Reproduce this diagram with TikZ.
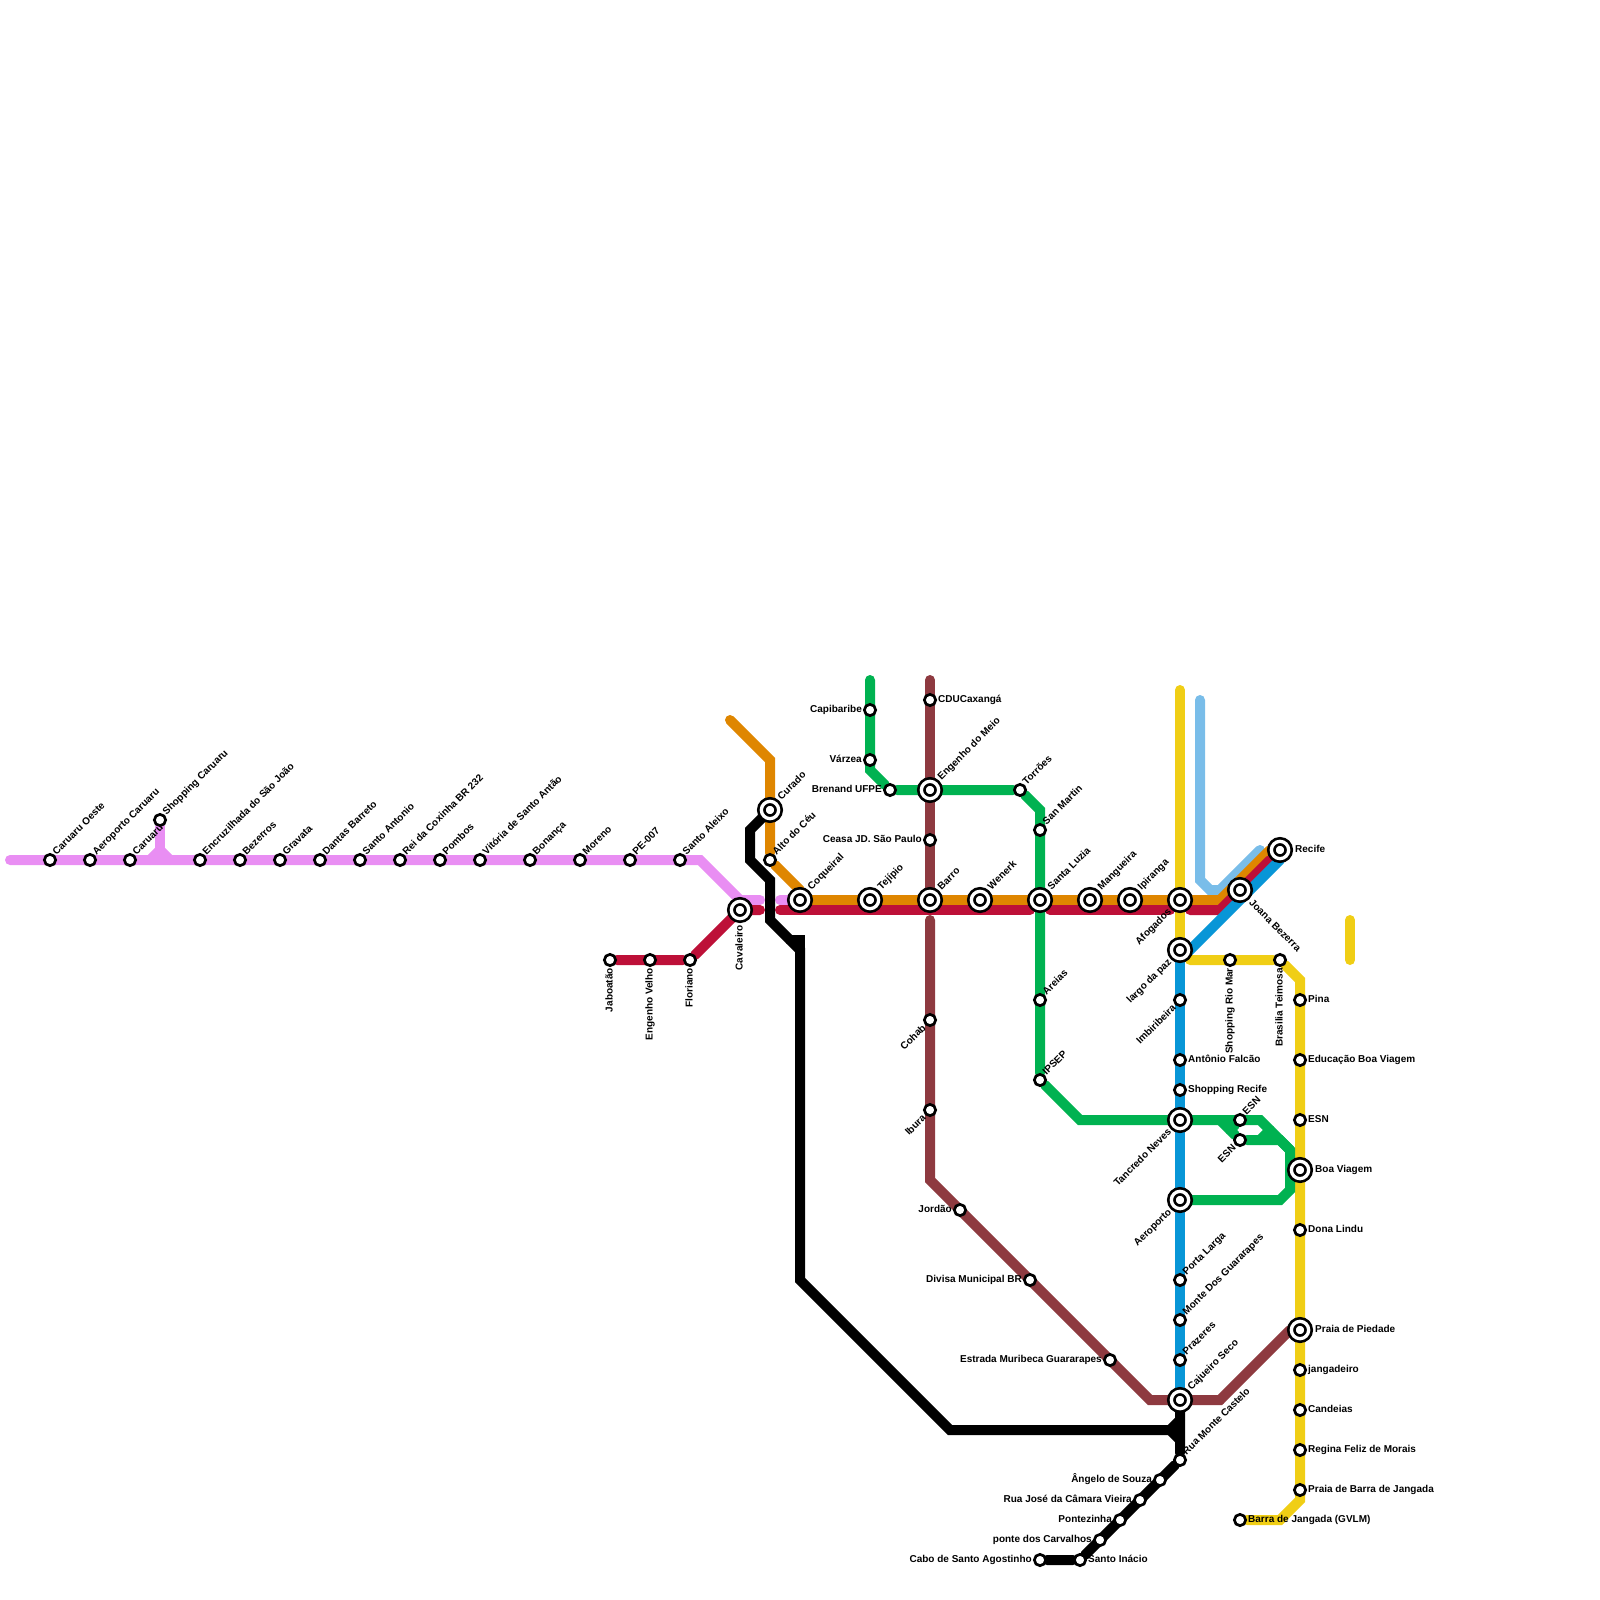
\documentclass[tikz,border=0pt]{standalone}
\usepackage{fontspec}
\setmainfont{Liberation Sans}
\usetikzlibrary{backgrounds}
\definecolor{pinkline}{HTML}{E98EF3}
\definecolor{redline}{HTML}{BD1038}
\definecolor{orangeline}{HTML}{DF8600}
\definecolor{greenline}{HTML}{00B251}
\definecolor{brownline}{HTML}{8E3A40}
\definecolor{yellowline}{HTML}{F0CE15}
\definecolor{skyline}{HTML}{79BDE9}
\definecolor{blueline}{HTML}{0896D7}
\tikzset{
  stn/.style={circle, draw=black, fill=white, line width=2.7, inner sep=0, minimum size=11.3},
  bigstn/.style={circle, draw=black, fill=white, line width=2.7, double=white, double distance=3.3, inner sep=0, minimum size=17.3},
  rail/.style={line width=10, line cap=round},
  txt/.style={font=\bfseries\fontsize{10}{12}\selectfont, inner sep=0, text height=7.2, text depth=0},
  txtne/.style={txt, xshift=4, yshift=7, rotate=45, anchor=west},
  txtbigne/.style={txt, xshift=9, yshift=12, rotate=45, anchor=west},
  txte/.style={txt, anchor=west, xshift=8, yshift=1},
  txtbige/.style={txt, anchor=west, xshift=15, yshift=1},
  txtw/.style={txt, anchor=east, xshift=-8, yshift=1},
  txtsw/.style={txt, xshift=-6, yshift=-6, rotate=45, anchor=east},
  txtbigsw/.style={txt, xshift=-10.5, yshift=-10, rotate=45, anchor=east},
  txts/.style={txt, xshift=-1, yshift=-8, rotate=90, anchor=east},
  txtbigs/.style={txt, xshift=-1, yshift=-15, rotate=90, anchor=east},
  txtbigse/.style={txt, xshift=11, yshift=-11, rotate=-45, anchor=west},
}
\begin{document}
\begin{tikzpicture}[x=1pt, y=-1pt]
\useasboundingbox (0,0) rectangle (1600,1600);
% pink line
\node[stn] (caruaruoeste) at (50,860){};
\node[txtne] (tcaruaruoeste) at (caruaruoeste){Caruaru Oeste};
\node[stn] (aerocaruaru) at (90,860){};
\node[txtne] (taerocaruaru) at (aerocaruaru){Aeroporto Caruaru};
\node[stn] (caruaru) at (130,860){};
\node[txtne] (tcaruaru) at (caruaru){Caruaru};
\node[stn] (shopcaruaru) at (160,820){};
\node[txtne] (tshopcaruaru) at (shopcaruaru){Shopping Caruaru};
\node[stn] (encruzilhada) at (200,860){};
\node[txtne] (tencruzilhada) at (encruzilhada){Encruzilhada do São João};
\node[stn] (bezerros) at (240,860){};
\node[txtne] (tbezerros) at (bezerros){Bezerros};
\node[stn] (gravata) at (280,860){};
\node[txtne] (tgravata) at (gravata){Gravata};
\node[stn] (dantas) at (320,860){};
\node[txtne] (tdantas) at (dantas){Dantas Barreto};
\node[stn] (santoantonio) at (360,860){};
\node[txtne] (tsantoantonio) at (santoantonio){Santo Antonio};
\node[stn] (coxinha) at (400,860){};
\node[txtne] (tcoxinha) at (coxinha){Rei da Coxinha BR 232};
\node[stn] (pombos) at (440,860){};
\node[txtne] (tpombos) at (pombos){Pombos};
\node[stn] (vitoria) at (480,860){};
\node[txtne] (tvitoria) at (vitoria){Vitória de Santo Antão};
\node[stn] (bonanca) at (530,860){};
\node[txtne] (tbonanca) at (bonanca){Bonança};
\node[stn] (moreno) at (580,860){};
\node[txtne] (tmoreno) at (moreno){Moreno};
\node[stn] (pe007) at (630,860){};
\node[txtne] (tpe007) at (pe007){PE-007};
\node[stn] (santoaleixo) at (680,860){};
\node[txtne] (tsantoaleixo) at (santoaleixo){Santo Aleixo};
% red line
\node[stn] (jaboatao) at (610,960){};
\node[txts] (tjaboatao) at (jaboatao){Jaboatão};
\node[stn] (engenhovelho) at (650,960){};
\node[txts] (tengenhovelho) at (engenhovelho){Engenho Velho};
\node[stn] (floriano) at (690,960){};
\node[txts] (tfloriano) at (floriano){Floriano};
\node[bigstn] (cavaleiro) at (740,910){};
\node[txtbigs] (tcavaleiro) at (cavaleiro){Cavaleiro};
% orange line
\node[bigstn] (curado) at (770,810){};
\node[txtbigne] (tcurado) at (curado){Curado};
\node[stn] (altoceu) at (770,860){};
\node[txtne] (taltoceu) at (altoceu){Alto do Céu};
\node[bigstn] (coqueiral) at (800,900){};
\node[txtbigne] (tcoqueiral) at (coqueiral){Coqueiral};
\node[bigstn] (tejipio) at (870,900){};
\node[txtbigne] (ttejipio) at (tejipio){Tejípio};
\node[bigstn] (barro) at (930,900){};
\node[txtbigne] (tbarro) at (barro){Barro};
\node[bigstn] (wenerk) at (980,900){};
\node[txtbigne] (twenerk) at (wenerk){Wenerk};
\node[bigstn] (santaluzia) at (1040,900){};
\node[txtbigne] (tsantaluzia) at (santaluzia){Santa Luzia};
\node[bigstn] (mangueira) at (1090,900){};
\node[txtbigne] (tmangueira) at (mangueira){Mangueira};
\node[bigstn] (ipiranga) at (1130,900){};
\node[txtbigne] (tipiranga) at (ipiranga){Ipiranga};
\node[bigstn] (afogados) at (1180,900){};
\node[txtbigsw] (tafogados) at (afogados){Afogados};
\node[bigstn] (joana) at (1240,890){};
\node[txtbigse] (tjoana) at (joana){Joana Bezerra};
\node[bigstn] (recife) at (1280,850){};
\node[txtbige] (trecife) at (recife){Recife};
% green line
\node[stn] (capibaribe) at (870,710){};
\node[txtw] (tcapibaribe) at (capibaribe){Capibaribe};
\node[stn] (varzea) at (870,760){};
\node[txtw] (tvarzea) at (varzea){Várzea};
\node[stn] (brenand) at (890,790){};
\node[txtw] (tbrenand) at (brenand){Brenand UFPE};
\node[bigstn] (engenhomeio) at (930,790){};
\node[txtbigne] (tengenhomeio) at (engenhomeio){Engenho do Meio};
\node[stn] (torroes) at (1020,790){};
\node[txtne] (ttorroes) at (torroes){Torrões};
\node[stn] (sanmartin) at (1040,830){};
\node[txtne] (tsanmartin) at (sanmartin){San Martin};
\node[stn] (areias) at (1040,1000){};
\node[txtne] (tareias) at (areias){Areias};
\node[stn] (ipsep) at (1040,1080){};
\node[txtne] (tipsep) at (ipsep){IPSEP};
\node[stn] (esnA) at (1240,1120){};
\node[txtne] (tesnA) at (esnA){ESN};
\node[stn] (esnB) at (1240,1140){};
\node[txtsw] (tesnB) at (esnB){ESN};
% brown line
\node[stn] (cducaxanga) at (930,700){};
\node[txte] (tcducaxanga) at (cducaxanga){CDUCaxangá};
\node[stn] (ceasa) at (930,840){};
\node[txtw] (tceasa) at (ceasa){Ceasa JD. São Paulo};
\node[stn] (cohab) at (930,1020){};
\node[txtsw] (tcohab) at (cohab){Cohab};
\node[stn] (ibura) at (930,1110){};
\node[txtsw] (tibura) at (ibura){Ibura};
\node[stn] (jordao) at (960,1210){};
\node[txtw] (tjordao) at (jordao){Jordão};
\node[stn] (divisa) at (1030,1280){};
\node[txtw] (tdivisa) at (divisa){Divisa Municipal BR};
\node[stn] (muribeca) at (1110,1360){};
\node[txtw] (tmuribeca) at (muribeca){Estrada Muribeca Guararapes};
% blue line
\node[bigstn] (largopaz) at (1180,950){};
\node[txtbigsw] (tlargopaz) at (largopaz){largo da paz};
\node[stn] (imbiribeira) at (1180,1000){};
\node[txtsw] (timbiribeira) at (imbiribeira){Imbiribeira};
\node[stn] (falcao) at (1180,1060){};
\node[txte] (tfalcao) at (falcao){Antônio Falcão};
\node[stn] (shoprecife) at (1180,1090){};
\node[txte] (tshoprecife) at (shoprecife){Shopping Recife};
\node[bigstn] (tancredo) at (1180,1120){};
\node[txtbigsw] (ttancredo) at (tancredo){Tancredo Neves};
\node[bigstn] (aeroporto) at (1180,1200){};
\node[txtbigsw] (taeroporto) at (aeroporto){Aeroporto};
\node[stn] (portalarga) at (1180,1280){};
\node[txtne] (tportalarga) at (portalarga){Porta Larga};
\node[stn] (montegua) at (1180,1320){};
\node[txtne] (tmontegua) at (montegua){Monte Dos Guararapes};
\node[stn] (prazeres) at (1180,1360){};
\node[txtne] (tprazeres) at (prazeres){Prazeres};
\node[bigstn] (cajueiro) at (1180,1400){};
\node[txtbigne] (tcajueiro) at (cajueiro){Cajueiro Seco};
% black line
\node[stn] (ruamonte) at (1180,1460){};
\node[txtne] (truamonte) at (ruamonte){Rua Monte Castelo};
\node[stn] (angelo) at (1160,1480){};
\node[txtw] (tangelo) at (angelo){Ângelo de Souza};
\node[stn] (camara) at (1140,1500){};
\node[txtw] (tcamara) at (camara){Rua José da Câmara Vieira};
\node[stn] (pontezinha) at (1120,1520){};
\node[txtw] (tpontezinha) at (pontezinha){Pontezinha};
\node[stn] (carvalhos) at (1100,1540){};
\node[txtw] (tcarvalhos) at (carvalhos){ponte dos Carvalhos};
\node[stn] (santoinacio) at (1080,1560){};
\node[txte] (tsantoinacio) at (santoinacio){Santo Inácio};
\node[stn] (cabo) at (1040,1560){};
\node[txtw] (tcabo) at (cabo){Cabo de Santo Agostinho};
% yellow line
\node[stn] (riomar) at (1230,960){};
\node[txts] (triomar) at (riomar){Shopping Rio Mar};
\node[stn] (teimosa) at (1280,960){};
\node[txts] (tteimosa) at (teimosa){Brasilia Teimosa};
\node[stn] (pina) at (1300,1000){};
\node[txte] (tpina) at (pina){Pina};
\node[stn] (educacao) at (1300,1060){};
\node[txte] (teducacao) at (educacao){Educação Boa Viagem};
\node[stn] (esnC) at (1300,1120){};
\node[txte] (tesnC) at (esnC){ESN};
\node[bigstn] (boaviagem) at (1300,1170){};
\node[txtbige] (tboaviagem) at (boaviagem){Boa Viagem};
\node[stn] (donalindu) at (1300,1230){};
\node[txte] (tdonalindu) at (donalindu){Dona Lindu};
\node[bigstn] (piedade) at (1300,1330){};
\node[txtbige] (tpiedade) at (piedade){Praia de Piedade};
\node[stn] (jangadeiro) at (1300,1370){};
\node[txte] (tjangadeiro) at (jangadeiro){jangadeiro};
\node[stn] (candeias) at (1300,1410){};
\node[txte] (tcandeias) at (candeias){Candeias};
\node[stn] (regina) at (1300,1450){};
\node[txte] (tregina) at (regina){Regina Feliz de Morais};
\node[stn] (praiabarra) at (1300,1490){};
\node[txte] (tpraiabarra) at (praiabarra){Praia de Barra de Jangada};
\node[stn] (barragvlm) at (1240,1520){};
\node[txte] (tbarragvlm) at (barragvlm){Barra de Jangada (GVLM)};
% bends and free ends
\coordinate (pinkA) at (10,860);
\coordinate (pinkB) at (700,860);
\coordinate (pinkC) at (740,900);
\coordinate (pinkD) at (760,900);
\coordinate (pinkE) at (780,900);
\coordinate (spurA) at (160,850);
\coordinate (spurB) at (150,860);
\coordinate (spurC) at (170,860);
\coordinate (redA) at (760,910);
\coordinate (redB) at (780,910);
\coordinate (redC) at (1030,910);
\coordinate (redD) at (1050,910);
\coordinate (redE) at (1170,910);
\coordinate (redF) at (1190,910);
\coordinate (redG) at (1220,910);
\coordinate (redH) at (1270,860);
\coordinate (orangeA) at (730,720);
\coordinate (orangeB) at (770,760);
\coordinate (orangeC) at (800,890);
\coordinate (orangeD) at (1220,900);
\coordinate (orangeE) at (1270,850);
\coordinate (skyA) at (1200,700);
\coordinate (skyB) at (1200,880);
\coordinate (skyC) at (1210,890);
\coordinate (skyD) at (1220,890);
\coordinate (skyE) at (1260,850);
\coordinate (blueA) at (1190,950);
\coordinate (blueB) at (1280,860);
\coordinate (greenA) at (870,680);
\coordinate (greenB) at (870,770);
\coordinate (greenC) at (1040,810);
\coordinate (greenD) at (1080,1120);
\coordinate (greenE) at (1260,1120);
\coordinate (greenF) at (1290,1150);
\coordinate (greenG) at (1290,1190);
\coordinate (greenH) at (1280,1200);
\coordinate (greenI) at (1280,1140);
\coordinate (greenJ) at (1220,1120);
\coordinate (greenK) at (1230,1130);
\coordinate (greenL) at (1260,1140);
\coordinate (greenM) at (1270,1130);
\coordinate (brownA) at (930,680);
\coordinate (brownB) at (930,920);
\coordinate (brownC) at (930,1180);
\coordinate (brownD) at (1150,1400);
\coordinate (brownE) at (1220,1400);
\coordinate (brownF) at (1290,1330);
\coordinate (yellowA) at (1180,690);
\coordinate (yellowB) at (1190,960);
\coordinate (yellowC) at (1300,980);
\coordinate (yellowD) at (1300,1500);
\coordinate (yellowE) at (1280,1520);
\coordinate (yellowF) at (1350,920);
\coordinate (yellowG) at (1350,960);
\coordinate (blackA) at (750,830);
\coordinate (blackB) at (750,860);
\coordinate (blackC) at (770,880);
\coordinate (blackD) at (770,920);
\coordinate (blackE) at (800,950);
\coordinate (blackF) at (800,1280);
\coordinate (blackG) at (950,1430);
\coordinate (blackH) at (1170,1430);
\coordinate (blackI) at (1180,1420);
\coordinate (blackJ) at (1180,1440);
\coordinate (blackK) at (790,940);
\coordinate (blackL) at (800,940);
\begin{pgfonlayer}{background}
\draw[rail, skyline](skyA) -- (skyB) -- (skyC) -- (skyD) -- (skyE);
\draw[rail, yellowline](yellowA) -- (afogados);
\draw[rail, yellowline](afogados) -- (largopaz);
\draw[rail, yellowline](yellowB) -- (teimosa) -- (yellowC) -- (yellowD) -- (yellowE) -- (barragvlm);
\draw[rail, yellowline](yellowF) -- (yellowG);
\draw[rail, brownline](brownA) -- (barro);
\draw[rail, brownline](brownB) -- (brownC) -- (brownD) -- (brownE) -- (brownF);
\draw[rail, pinkline](pinkA) -- (pinkB) -- (pinkC) -- (pinkD);
\draw[rail, pinkline](pinkE) -- (coqueiral);
\draw[rail, pinkline](shopcaruaru) -- (spurA);
\draw[rail, pinkline](spurB) -- (spurA) -- (spurC);
\draw[rail, orangeline](orangeA) -- (orangeB) -- (altoceu);
\draw[rail, orangeline](altoceu) -- (orangeC) -- (coqueiral);
\draw[rail, orangeline](coqueiral) -- (orangeD) -- (orangeE);
\draw[rail, redline](jaboatao) -- (floriano) -- (cavaleiro) -- (redA);
\draw[rail, redline](redB) -- (redC);
\draw[rail, redline](redD) -- (redE);
\draw[rail, redline](redF) -- (redG) -- (redH);
\draw[rail, blueline](largopaz) -- (blueA) -- (blueB);
\draw[rail, blueline](largopaz) -- (cajueiro);
\draw[rail, greenline](greenA) -- (greenB) -- (brenand) -- (torroes) -- (greenC) -- (ipsep) -- (greenD) -- (greenE) -- (greenF) -- (greenG) -- (greenH) -- (aeroporto);
\draw[rail, greenline](greenJ) -- (esnB) -- (greenI) -- (greenF);
\draw[rail, greenline](greenK) -- (esnA);
\draw[rail, greenline](greenL) -- (greenM);
\draw[rail, brownline](brownE) -- (cajueiro);
\draw[rail, black](curado) -- (blackA) -- (blackB) -- (blackC) -- (blackD) -- (blackE) -- (blackF) -- (blackG) -- (blackH) -- (blackI);
\draw[rail, black](blackK) -- (blackL) -- (blackE);
\draw[rail, black](blackH) -- (blackJ);
\draw[rail, black](cajueiro) -- (ruamonte) -- (santoinacio) -- (cabo);
\end{pgfonlayer}
\end{tikzpicture}
\end{document}
